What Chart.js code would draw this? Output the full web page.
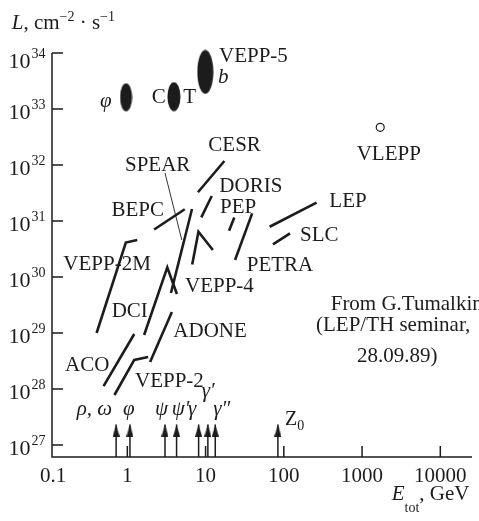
<!DOCTYPE html>
<html><head><meta charset="utf-8">
<script src="https://cdn.jsdelivr.net/npm/chart.js@4.4.0/dist/chart.umd.min.js"></script>
<style>html,body{margin:0;padding:0;background:#fff}#wrap{width:479px;height:521px;position:relative}</style>
</head><body><div id="wrap"><canvas id="c"></canvas></div>
<script>
// ---- data (E_tot in GeV, L in cm^-2 s^-1) ----
const acoE = [0.497, 1.226],            acoL = [1.13e28, 9.6e28];
const vepp2E = [0.685, 1.226, 1.844],   vepp2L = [7.82e27, 3.30e28, 3.73e28];
const adoneE = [1.955, 3.71],           adoneL = [3.03e28, 2.37e29];
const dciE = [1.64, 3.24, 4.30],        dciL = [9.21e28, 1.49e30, 4.97e29];
const vepp2mE = [0.405, 0.957, 1.339],  vepp2mL = [1.0e29, 4.13e30, 4.58e30];
const spearE = [3.61, 6.71],            spearL = [5.18e29, 1.64e31];
const spearPtrE = [3.03, 4.97],         spearPtrL = [7.2e31, 4.58e30];
const bepcE = [2.20, 5.42],             bepcL = [7.05e30, 1.62e31];
const vepp4E = [6.75, 8.11, 12.4],      vepp4L = [1.67e30, 6.44e30, 3.03e30];
const cesrE = [7.99, 17.4],             cesrL = [3.26e31, 1.18e32];
const dorisE = [8.82, 12.0],            dorisL = [1.16e31, 2.79e31];
const pepE = [19.95, 23.3],             pepL = [6.71e30, 1.16e31];
const petraE = [23.8, 39.4],            petraL = [2.01e30, 1.37e31];
const lepE = [65.9, 262],               lepL = [7.9e30, 2.13e31];
const slcE = [72.6, 120],               slcL = [3.84e30, 6.01e30];
// projected factories
const phiFacE = [0.963], phiFacL = [1.62e33];
const ctauFacE = [3.94], ctauFacL = [1.66e33];
const vepp5E = [9.91],   vepp5L = [4.6e33];
const vlepE = [1706],    vlepL = [4.71e32];
// resonances (arrows)
const resE = [0.719, 1.08, 3.03, 4.26, 8.15, 10.7, 13.3, 84.0];
const resTipL = 2.32e27;
// axes
const xMin = 0.109, xMax = 25400, yMin = 6.11e26, yMax = 1e34;
const xTickValues = [0.1, 1, 10, 100, 1000, 10000];
const xTickLabels = ['0.1', '1', '10', '100', '1000', '10000'];
const yTickExps = [27, 28, 29, 30, 31, 32, 33, 34];

const INK = '#1c1c1c';
const SERIF = '"Liberation Serif", "Times New Roman", serif';
const pts = (E, L) => E.map((e, i) => ({x: e, y: L[i]}));

function ellipseImg(w, h) {
  const c = document.createElement('canvas');
  c.width = w; c.height = h;
  const g = c.getContext('2d');
  g.fillStyle = INK;
  g.beginPath(); g.ellipse(w/2, h/2, w/2 - 0.5, h/2 - 0.5, 0, 0, Math.PI*2); g.fill();
  return c;
}
function arrowHeadImg(w, h) {
  const c = document.createElement('canvas');
  c.width = w; c.height = 2*h;
  const g = c.getContext('2d');
  g.fillStyle = INK;
  g.beginPath(); g.moveTo(w/2, h); g.lineTo(w, 2*h); g.lineTo(0, 2*h); g.closePath(); g.fill();
  return c;
}

function seg(E, L, width) {
  return {data: pts(E, L), showLine: true, borderColor: INK, borderWidth: width || 2.6,
          pointRadius: 0, borderCapStyle: 'butt', borderJoinStyle: 'miter', fill: false};
}

const shafts = [];
resE.forEach(e => { shafts.push({x: e, y: yMin}, {x: e, y: resTipL}, {x: e, y: null}); });

const datasets = [
  seg(acoE, acoL), seg(vepp2E, vepp2L), seg(adoneE, adoneL), seg(dciE, dciL),
  seg(vepp2mE, vepp2mL), seg(spearE, spearL), seg(spearPtrE, spearPtrL, 0.9),
  seg(bepcE, bepcL), seg(vepp4E, vepp4L), seg(cesrE, cesrL), seg(dorisE, dorisL),
  seg(pepE, pepL), seg(petraE, petraL), seg(lepE, lepL), seg(slcE, slcL),
  {data: pts(phiFacE, phiFacL), pointStyle: ellipseImg(13, 29), pointRadius: 6, showLine: false, clip: false},
  {data: pts(ctauFacE, ctauFacL), pointStyle: ellipseImg(14, 30), pointRadius: 6, showLine: false, clip: false},
  {data: pts(vepp5E, vepp5L), pointStyle: ellipseImg(17, 45), pointRadius: 6, showLine: false, clip: false},
  {data: pts(vlepE, vlepL), pointStyle: 'circle', pointRadius: 4, borderWidth: 1.2,
   borderColor: INK, backgroundColor: '#fff', showLine: false},
  {data: shafts, showLine: true, spanGaps: false, borderColor: INK, borderWidth: 1.5, pointRadius: 0},
  {data: resE.map(e => ({x: e, y: resTipL})), pointStyle: arrowHeadImg(7, 12), pointRadius: 5, showLine: false}
];

const labels = [
  ['VEPP-5', 219, 61.7], ['C', 151.7, 103.3], ['T', 183.3, 103.3], ['VLEPP', 356.7, 160],
  ['CESR', 208.3, 150.8], ['SPEAR', 125, 170.7], ['DORIS', 219.3, 191.7], ['PEP', 220, 212.7],
  ['BEPC', 111.5, 216], ['LEP', 329.3, 206.7], ['SLC', 300, 240.7], ['PETRA', 246.7, 270.7],
  ['VEPP-2M', 63.3, 270], ['VEPP-4', 185, 291.7], ['DCI', 111.7, 317.3], ['ADONE', 173.3, 336.7],
  ['ACO', 65, 370.7], ['VEPP-2', 135, 387.3],
  ['From G.Tumalkin', 330.7, 310], ['(LEP/TH seminar,', 316, 330.7], ['28.09.89)', 357, 361.7]
];
const italicLabels = [
  ['\u03C6', 100, 107], ['b', 218, 83.3],
  ['\u03C1, \u03C9', 76.7, 415], ['\u03C6', 123, 415], ['\u03C8', 155, 415], ['\u03C8\u2032', 171.7, 415],
  ['\u03B3', 188, 415], ['\u03B3\u2032', 201.7, 397], ['\u03B3\u2033', 213.3, 415]
];

const drawPlugin = {
  id: 'decor',
  afterDraw(chart) {
    const ctx = chart.ctx, a = chart.chartArea;
    const xs = chart.scales.x, ys = chart.scales.y;
    ctx.save();
    ctx.strokeStyle = INK; ctx.fillStyle = INK; ctx.lineWidth = 1.5;
    // axes
    ctx.beginPath();
    ctx.moveTo(a.left, a.top); ctx.lineTo(a.left, a.bottom); ctx.lineTo(a.right, a.bottom);
    ctx.stroke();
    // inward ticks
    ctx.beginPath();
    xTickValues.forEach(v => {
      const px = xs.getPixelForValue(v);
      if (px > a.left + 3) { ctx.moveTo(px, a.bottom); ctx.lineTo(px, a.bottom - 11); }
    });
    yTickExps.forEach(e => {
      const py = ys.getPixelForValue(Math.pow(10, e));
      ctx.moveTo(a.left, py); ctx.lineTo(a.left + 11, py);
    });
    ctx.stroke();
    // x tick labels
    ctx.textBaseline = 'alphabetic';
    ctx.font = '21px ' + SERIF; ctx.textAlign = 'center';
    xTickValues.forEach((v, i) => {
      const px = Math.max(xs.getPixelForValue(v), a.left + 1);
      ctx.fillText(xTickLabels[i], px, 482);
    });
    // y tick labels
    yTickExps.forEach((e, i) => {
      const py = ys.getPixelForValue(Math.pow(10, e));
      const base = py + (i === yTickExps.length - 1 ? 15 : 10);
      ctx.font = '22px ' + SERIF; ctx.textAlign = 'right';
      ctx.fillText('10', 30.5, base);
      ctx.font = '14px ' + SERIF; ctx.textAlign = 'left';
      ctx.fillText(String(e), 31.5, base - 10.5);
    });
    // y axis title  L, cm^-2 · s^-1
    ctx.textAlign = 'left';
    let x = 11.7;
    const put = (t, f, y) => { ctx.font = f; ctx.fillText(t, x, y); x += ctx.measureText(t).width; };
    put('L', 'italic 21px ' + SERIF, 29.3);
    put(', cm', '21px ' + SERIF, 29.3);
    put('\u22122', '14px ' + SERIF, 20.5);
    put(' \u00B7 s', '21px ' + SERIF, 29.3);
    put('\u22121', '14px ' + SERIF, 20.5);
    // x axis title  E_tot, GeV
    x = 391.7;
    put('E', 'italic 21px ' + SERIF, 500);
    put('tot', '14px ' + SERIF, 512);
    put(', GeV', '21px ' + SERIF, 500);
    // Z0
    x = 285;
    put('Z', '20px ' + SERIF, 425);
    put('0', '14px ' + SERIF, 430);
    // labels
    ctx.font = '21px ' + SERIF;
    labels.forEach(l => ctx.fillText(l[0], l[1], l[2]));
    ctx.font = 'italic 21px ' + SERIF;
    italicLabels.forEach(l => ctx.fillText(l[0], l[1], l[2]));
    ctx.restore();
  }
};

new Chart(document.getElementById('c'), {
  type: 'scatter',
  data: {datasets},
  options: {
    responsive: true, maintainAspectRatio: false, animation: false, events: [],
    layout: {padding: {left: 52, right: 3, top: 53, bottom: 64}},
    plugins: {legend: {display: false}, tooltip: {enabled: false}},
    scales: {
      x: {type: 'logarithmic', min: xMin, max: xMax, display: false},
      y: {type: 'logarithmic', min: yMin, max: yMax, display: false}
    }
  },
  plugins: [drawPlugin]
});
</script></body></html>
